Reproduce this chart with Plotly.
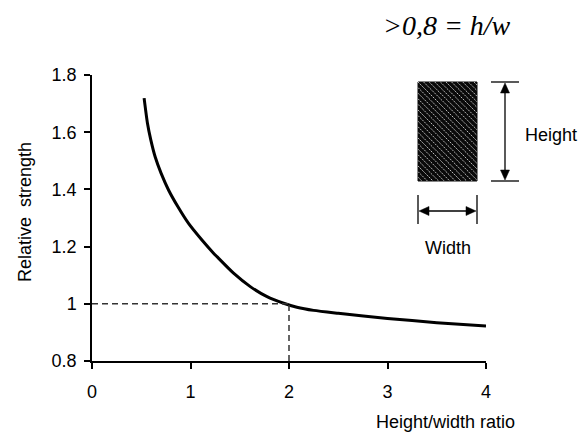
import plotly.graph_objects as go

# Data
ratio = [0.529, 0.563, 0.597, 0.641, 0.702, 0.777, 0.871, 0.980, 1.116, 1.234, 1.268, 1.437,
         1.607, 1.777, 1.946, 2.08, 2.25, 2.5, 3.0, 3.5, 4.0]
strength = [1.719, 1.631, 1.573, 1.514, 1.456, 1.398, 1.340, 1.281, 1.223, 1.177, 1.165, 1.107,
            1.060, 1.025, 1.002, 0.988, 0.977, 0.967, 0.949, 0.934, 0.922]
x_ticks = [0, 1, 2, 3, 4]
y_ticks = [0.8, 1.0, 1.2, 1.4, 1.6, 1.8]
y_tick_labels = ["0.8", "1", "1.2", "1.4", "1.6", "1.8"]
ref_x = 2.0
ref_y = 1.0

W, H = 582, 435
ML, MR, MT, MB = 92, 96, 75, 74
PW = W - ML - MR
PH = H - MT - MB

def px(x):
    return (x - ML) / PW

def py(y):
    return (H - MB - y) / PH

FONT = "Liberation Sans, Arial, sans-serif"

fig = go.Figure()
fig.add_trace(go.Scatter(x=ratio, y=strength, mode="lines",
                         line=dict(color="black", width=3, shape="spline", smoothing=0.6),
                         hoverinfo="skip", showlegend=False))

shapes = []
# dashed reference lines
shapes.append(dict(type="line", xref="x", yref="y", x0=0, x1=ref_x, y0=ref_y, y1=ref_y,
                   line=dict(color="#333", width=1.5, dash="6px,4px")))
shapes.append(dict(type="line", xref="x", yref="y", x0=ref_x, x1=ref_x, y0=0.8, y1=ref_y,
                   line=dict(color="#333", width=1.5, dash="6px,4px")))

# inset: hatched rectangle
rx0, rx1, ry0, ry1 = 418, 477, 82, 181
shapes.append(dict(type="rect", xref="paper", yref="paper",
                   x0=px(rx0), x1=px(rx1), y0=py(ry1), y1=py(ry0),
                   fillcolor="#0a0a0a", line=dict(color="#0a0a0a", width=1)))
c = ry0 - rx1 + 3
while c < ry1 - rx0:
    xa = max(rx0, ry0 - c)
    xb = min(rx1, ry1 - c)
    if xb > xa:
        shapes.append(dict(type="line", xref="paper", yref="paper",
                           x0=px(xa), y0=py(xa + c), x1=px(xb), y1=py(xb + c),
                           line=dict(color="#b8b8b8", width=1.0, dash="2px,1px")))
    c += 5.6

# height arrow
hx = 505
for yy in (82, 181):
    shapes.append(dict(type="line", xref="paper", yref="paper", x0=px(491), x1=px(519), y0=py(yy), y1=py(yy),
                       line=dict(color="black", width=1.3)))
shapes.append(dict(type="line", xref="paper", yref="paper", x0=px(hx), x1=px(hx), y0=py(88), y1=py(175),
                   line=dict(color="black", width=1.3)))
# width arrow
wy = 211
for xx in (418, 477):
    shapes.append(dict(type="line", xref="paper", yref="paper", x0=px(xx), x1=px(xx), y0=py(195), y1=py(224),
                       line=dict(color="black", width=1.3)))
shapes.append(dict(type="line", xref="paper", yref="paper", x0=px(424), x1=px(471), y0=py(wy), y1=py(wy),
                   line=dict(color="black", width=1.3)))

def tri(p1, p2, p3):
    return "M {} {} L {} {} L {} {} Z".format(px(p1[0]), py(p1[1]), px(p2[0]), py(p2[1]), px(p3[0]), py(p3[1]))

for path in [tri((hx, 83), (hx - 4.5, 93), (hx + 4.5, 93)),
             tri((hx, 180), (hx - 4.5, 170), (hx + 4.5, 170)),
             tri((419, wy), (429, wy - 4.5), (429, wy + 4.5)),
             tri((476, wy), (466, wy - 4.5), (466, wy + 4.5))]:
    shapes.append(dict(type="path", xref="paper", yref="paper", path=path,
                       fillcolor="black", line=dict(color="black", width=0.5)))

annotations = [
    dict(text="<i>&gt;0,8 = h/w</i>", xref="paper", yref="paper", x=px(447), y=py(25),
         xanchor="center", yanchor="middle", showarrow=False,
         font=dict(family="Liberation Serif, Times New Roman, serif", size=28, color="black")),
    dict(text="Height", xref="paper", yref="paper", x=px(523), y=py(135),
         xanchor="left", yanchor="middle", showarrow=False,
         font=dict(family=FONT, size=18, color="black")),
    dict(text="Width", xref="paper", yref="paper", x=px(448), y=py(248),
         xanchor="center", yanchor="middle", showarrow=False,
         font=dict(family=FONT, size=18, color="black")),
    dict(text="Height/width ratio", xref="paper", yref="paper", x=px(517), y=py(422),
         xanchor="right", yanchor="middle", showarrow=False,
         font=dict(family=FONT, size=18, color="black")),
    dict(text="Relative  strength", xref="paper", yref="paper", x=px(25), y=py(212),
         xanchor="center", yanchor="middle", showarrow=False, textangle=-90,
         font=dict(family=FONT, size=18, color="black")),
]

fig.update_layout(
    width=W, height=H,
    margin=dict(l=ML, r=MR, t=MT, b=MB, pad=0),
    paper_bgcolor="white", plot_bgcolor="white",
    shapes=shapes, annotations=annotations,
    showlegend=False,
    xaxis=dict(range=[0, 4], tickvals=x_ticks, ticktext=[str(v) for v in x_ticks],
               showgrid=False, zeroline=False, showline=True, linecolor="black", linewidth=1.5,
               ticks="outside", ticklen=6, tickwidth=1.5, tickcolor="black",
               tickfont=dict(family=FONT, size=18, color="black"), ticklabelstandoff=8),
    yaxis=dict(range=[0.8, 1.8], tickvals=y_ticks, ticktext=y_tick_labels,
               showgrid=False, zeroline=False, showline=True, linecolor="black", linewidth=1.5,
               ticks="outside", ticklen=6, tickwidth=1.5, tickcolor="black",
               tickfont=dict(family=FONT, size=18, color="black"), ticklabelstandoff=4),
)

fig.write_html("out.html", config={"displayModeBar": False},
               post_script="document.body.style.margin='0';document.body.style.overflow='hidden';")
